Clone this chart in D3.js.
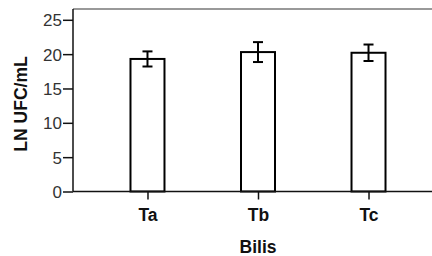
<!DOCTYPE html>
<html><head><meta charset="utf-8">
<script src="https://cdn.jsdelivr.net/npm/d3@7"></script>
<style>body{margin:0;background:#fff;}svg{display:block;}</style>
</head><body>
<svg id="c" width="432" height="256"></svg>
<script>
const categories = ["Ta", "Tb", "Tc"];
const means = [19.3, 20.3, 20.2];
const errors = [1.1, 1.45, 1.2];
const yTicks = [0, 5, 10, 15, 20, 25];
const xTitle = "Bilis";
const yTitle = "LN UFC/mL";

(function () {
const svg = d3.select("#c");
const plotLeft = 73, plotBottom = 191.5, plotTop = 9;
const y = d3.scaleLinear().domain([0, 25]).range([plotBottom, 19.8]);
const x = d3.scalePoint().domain(categories).range([plotLeft, 443]).padding(0.674);
const barW = 34;
const font = "Liberation Sans, Arial, sans-serif";

svg.append("line").attr("x1", plotLeft).attr("x2", 432).attr("y1", plotTop).attr("y2", plotTop)
  .attr("stroke", "#777").attr("stroke-width", 1.3);

svg.selectAll("rect.bar").data(categories).enter().append("rect")
  .attr("x", d => x(d) - barW / 2)
  .attr("y", (d, i) => y(means[i]))
  .attr("width", barW)
  .attr("height", (d, i) => plotBottom - y(means[i]))
  .attr("fill", "#fff").attr("stroke", "#000").attr("stroke-width", 2);

const eg = svg.selectAll("g.err").data(categories).enter().append("g");
eg.append("line").attr("x1", d => x(d)).attr("x2", d => x(d))
  .attr("y1", (d, i) => y(means[i] + errors[i])).attr("y2", (d, i) => y(means[i] - errors[i]))
  .attr("stroke", "#000").attr("stroke-width", 2);
eg.append("line").attr("x1", d => x(d) - 5).attr("x2", d => x(d) + 5)
  .attr("y1", (d, i) => y(means[i] + errors[i])).attr("y2", (d, i) => y(means[i] + errors[i]))
  .attr("stroke", "#000").attr("stroke-width", 2);
eg.append("line").attr("x1", d => x(d) - 5).attr("x2", d => x(d) + 5)
  .attr("y1", (d, i) => y(means[i] - errors[i])).attr("y2", (d, i) => y(means[i] - errors[i]))
  .attr("stroke", "#000").attr("stroke-width", 2);

const ya = svg.append("g").attr("transform", `translate(${plotLeft},0)`)
  .call(d3.axisLeft(y).tickValues(yTicks).tickSize(10).tickPadding(1).tickSizeOuter(0));
ya.select(".domain").remove();
ya.append("line").attr("x1", 0).attr("x2", 0).attr("y1", plotTop).attr("y2", plotBottom)
  .attr("stroke", "#111").attr("stroke-width", 1.5);
ya.selectAll(".tick line").attr("stroke", "#111").attr("stroke-width", 1.5);
ya.selectAll(".tick text").attr("font-family", font)
  .attr("font-size", 17).attr("fill", "#333").attr("dy", "0.36em");

const xa = svg.append("g").attr("transform", `translate(0,${plotBottom})`)
  .call(d3.axisBottom(x).tickSize(8).tickPadding(1).tickSizeOuter(0));
xa.select(".domain").remove();
xa.append("line").attr("x1", plotLeft).attr("x2", 432).attr("y1", 0).attr("y2", 0)
  .attr("stroke", "#111").attr("stroke-width", 1.5);
xa.selectAll(".tick line").attr("stroke", "#111").attr("stroke-width", 1.5);
xa.selectAll(".tick text").attr("font-family", font).attr("dy", "0").attr("y", 29.5)
  .attr("font-size", 17.5).attr("font-weight", "bold").attr("fill", "#111");

svg.append("text").attr("x", 258).attr("y", 253).attr("text-anchor", "middle")
  .attr("font-family", font).attr("font-size", 17.5)
  .attr("font-weight", "bold").attr("fill", "#111").text(xTitle);
svg.append("text").attr("transform", "translate(26.5,104) rotate(-90)").attr("text-anchor", "middle")
  .attr("font-family", font).attr("font-size", 17.5)
  .attr("font-weight", "bold").attr("fill", "#111").text(yTitle);
})();
</script>
</body></html>
